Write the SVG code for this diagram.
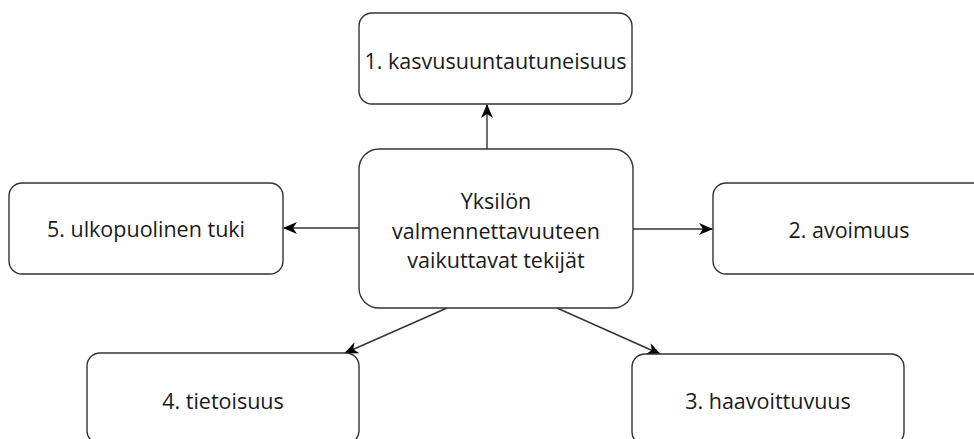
<svg xmlns="http://www.w3.org/2000/svg" width="974" height="439" viewBox="0 0 974 439">
<style>
.box{fill:#ffffff;stroke:#333333;stroke-width:1.4}
.lbl{font-family:"Open Sans","Noto Sans",sans-serif;font-size:21.5px;fill:#1a1a1a;text-anchor:middle;dominant-baseline:central}
.edge{stroke:#333333;stroke-width:1.4;fill:none;marker-end:url(#arr)}
</style>
<defs>
<marker id="arr" viewBox="0 0 14 12" refX="13" refY="6" markerWidth="14" markerHeight="12" markerUnits="userSpaceOnUse" orient="auto">
<path d="M0,0 L14,6 L0,12 L4,6 Z" fill="#000000"/>
</marker>
</defs>
<rect width="974" height="439" fill="#ffffff"/>
<g id="connectors">
<line class="edge" x1="487" y1="149" x2="487" y2="105"/>
<line class="edge" x1="633" y1="229" x2="712" y2="229"/>
<line class="edge" x1="359" y1="228" x2="284" y2="228"/>
<line class="edge" x1="447" y1="308" x2="345" y2="353"/>
<line class="edge" x1="557" y1="308" x2="660" y2="354"/>
</g>
<g id="center">
<rect class="box" x="359" y="149" width="274" height="159" rx="20"/>
<text class="lbl" x="496" y="200">Yksilön</text>
<text class="lbl" x="496" y="230">valmennettavuuteen</text>
<text class="lbl" x="496" y="259">vaikuttavat tekijät</text>
</g>
<g id="n1">
<rect class="box" x="359" y="13" width="273" height="91" rx="13"/>
<text class="lbl" x="495.5" y="60">1. kasvusuuntautuneisuus</text>
</g>
<g id="n2">
<rect class="box" x="713" y="183" width="274" height="91" rx="13"/>
<text class="lbl" x="849" y="229">2. avoimuus</text>
</g>
<g id="n3">
<rect class="box" x="632" y="354" width="272" height="91" rx="13"/>
<text class="lbl" x="768" y="400">3. haavoittuvuus</text>
</g>
<g id="n4">
<rect class="box" x="87" y="353" width="272" height="91" rx="13"/>
<text class="lbl" x="223" y="400">4. tietoisuus</text>
</g>
<g id="n5">
<rect class="box" x="9" y="183" width="274" height="91" rx="13"/>
<text class="lbl" x="146" y="228">5. ulkopuolinen tuki</text>
</g>
</svg>
